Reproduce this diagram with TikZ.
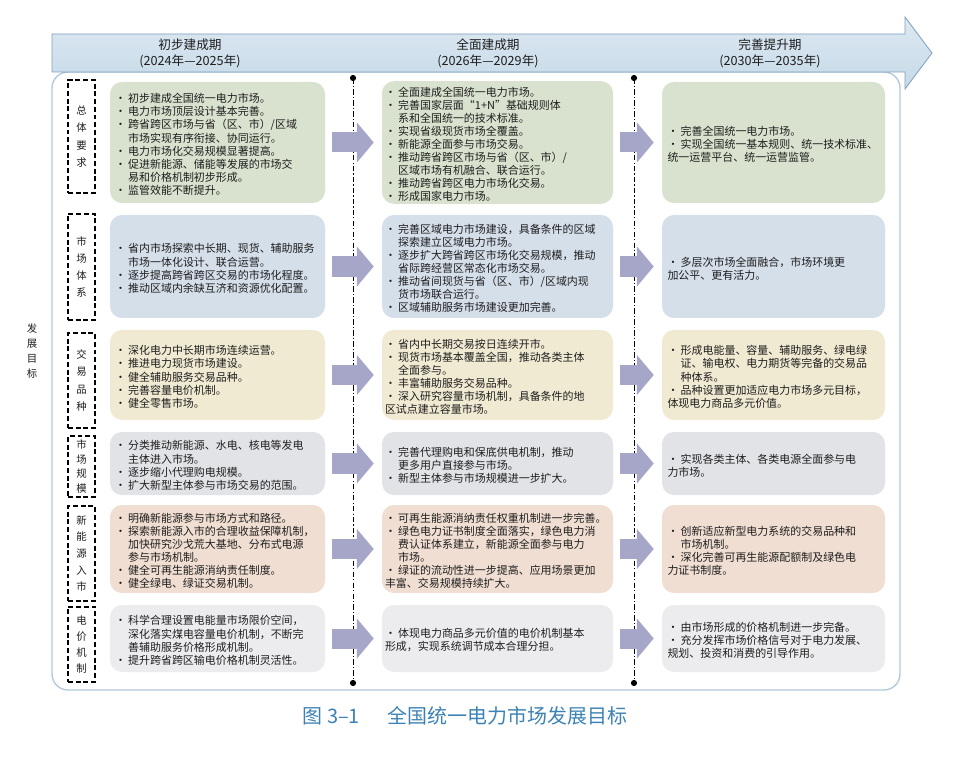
\documentclass[tikz,border=0pt]{standalone}
\usepackage{fontspec}
\setmainfont{Noto Sans CJK SC}
\usepackage{xcolor}
\usepackage{tikz}
\usetikzlibrary{arrows.meta,calc}
\definecolor{boxGreen}{HTML}{D9E2CE}
\definecolor{boxBlue}{HTML}{D5DFEA}
\definecolor{boxYellow}{HTML}{F1EAD2}
\definecolor{boxGray}{HTML}{E2E3E7}
\definecolor{boxPink}{HTML}{F0DED2}
\definecolor{boxLight}{HTML}{ECECEF}
\definecolor{arrowGray}{HTML}{A6A6C8}
\definecolor{hdrBlue}{HTML}{C6D9E8}
\definecolor{hdrLight}{HTML}{DDE9F2}
\definecolor{hdrEdge}{HTML}{7F9FBC}
\definecolor{frameEdge}{HTML}{B4CADB}
\definecolor{capBlue}{HTML}{3C82B4}
\definecolor{ink}{HTML}{1E1E1E}

\newdimen\pxu \pxu=0.025cm
\newcommand\itm{\par\noindent\hangindent=1.2em\hangafter=1\makebox[1.2em][l]{•}}
\newcommand\cellfont{\fontsize{7.8pt}{9.3pt}\selectfont}

\begin{document}
\begin{tikzpicture}[
  x=0.025cm, y=-0.025cm,
  cell/.style={rectangle, rounded corners=12\pxu, inner sep=2\pxu, align=left,
    font=\cellfont, text=ink, draw=none},
  colA/.style={cell, minimum width=215\pxu, text width=205\pxu},
  colB/.style={cell, minimum width=231\pxu, text width=225\pxu},
  colC/.style={cell, minimum width=223\pxu, text width=212\pxu},
  whole/.style={fill=boxGreen, minimum height=121\pxu},
  system/.style={fill=boxBlue, minimum height=103\pxu},
  product/.style={fill=boxYellow, minimum height=90\pxu},
  volume/.style={fill=boxGray, minimum height=63\pxu},
  renew/.style={fill=boxPink, minimum height=88\pxu},
  price/.style={fill=boxLight, minimum height=67\pxu},
  tag/.style={draw=black, dash pattern=on 3.5pt off 2pt, line width=0.9pt, inner sep=0pt,
    minimum width=27\pxu, align=center, text=ink, font=\fontsize{7.4pt}{12.3pt}\selectfont},
  flow/.style={draw=arrowGray, line width=0.5cm,
    -{Triangle[width=1cm, length=0.42cm, line width=0pt]}, shorten <=0.17cm, shorten >=0.2cm},
  divider/.style={draw=black, line width=0.7pt, dash pattern=on 4pt off 1.5pt on 0.8pt off 1.5pt},
  stage/.style={align=center, text=ink, font=\fontsize{9pt}{11.4pt}\selectfont}
]
  \useasboundingbox (0,0) rectangle (965,760);

  % frame and time line
  \draw[frameEdge, line width=1pt, rounded corners=16\pxu, fill=white] (52,72) rectangle (900,690);
  \draw[hdrEdge, line width=0.6pt, top color=hdrLight, bottom color=hdrBlue]
    (52,34) -- (905,34) -- (905,17) -- (932,53) -- (905,89) -- (905,72) -- (52,72) -- cycle;
  \node[stage] (early) at (190,53) {初步建成期\\(2024年—2025年)};
  \node[stage] (full) at (488,53) {全面建成期\\(2026年—2029年)};
  \node[stage] (mature) at (770,53) {完善提升期\\(2030年—2035年)};

  \coordinate (dvAtop) at (353,78); \coordinate (dvAbot) at (353,683);
  \coordinate (dvBtop) at (634,78); \coordinate (dvBbot) at (634,683);
  \draw[divider] (dvAtop) -- (dvAbot);
  \draw[divider] (dvBtop) -- (dvBbot);
  \foreach \p in {dvAtop,dvAbot,dvBtop,dvBbot}{ \fill[black] (\p) circle (2.2pt); }

  \node[text=ink, align=center, font=\fontsize{7.4pt}{10.7pt}\selectfont] (goal) at (32,351) {发\\展\\目\\标};

  \node[tag, minimum height=113\pxu] (t1) at (81.5,136.5) {总\\体\\要\\求};
  \node[tag, minimum height=106\pxu] (t2) at (81.5,267) {市\\场\\体\\系};
  \node[tag, minimum height=95\pxu] (t3) at (81.5,380.5) {交\\易\\品\\种};
  \node[tag, minimum height=61\pxu, font=\fontsize{7.4pt}{10.3pt}\selectfont] (t4) at (81.5,466.5) {市\\场\\规\\模};
  \node[tag, minimum height=95\pxu, font=\fontsize{7.4pt}{11.8pt}\selectfont] (t5) at (81.5,553.5) {新\\能\\源\\入\\市};
  \node[tag, minimum height=75\pxu, font=\fontsize{7.4pt}{11.3pt}\selectfont] (t6) at (81.5,644.5) {电\\价\\机\\制};

  % stage 1
  \node[colA, whole] (e1) at (217.5,142.5) {\itm 初步建成全国统一电力市场。
    \itm 电力市场顶层设计基本完善。
    \itm 跨省跨区市场与省（区、市）/区域\newline 市场实现有序衔接、协同运行。
    \itm 电力市场化交易规模显著提高。
    \itm 促进新能源、储能等发展的市场交\newline 易和价格机制初步形成。
    \itm 监管效能不断提升。};
  \node[colA, system] (e2) at (217.5,266.5) {\itm 省内市场探索中长期、现货、辅助服务\newline 市场一体化设计、联合运营。
    \itm 逐步提高跨省跨区交易的市场化程度。
    \itm 推动区域内余缺互济和资源优化配置。};
  \node[colA, product] (e3) at (217.5,375) {\itm 深化电力中长期市场连续运营。
    \itm 推进电力现货市场建设。
    \itm 健全辅助服务交易品种。
    \itm 完善容量电价机制。
    \itm 健全零售市场。};
  \node[colA, volume] (e4) at (217.5,463.5) {\itm 分类推动新能源、水电、核电等发电\newline 主体进入市场。
    \itm 逐步缩小代理购电规模。
    \itm 扩大新型主体参与市场交易的范围。};
  \node[colA, renew] (e5) at (217.5,549) {\itm 明确新能源参与市场方式和路径。
    \itm 探索新能源入市的合理收益保障机制，\newline 加快研究沙戈荒大基地、分布式电源\newline 参与市场机制。
    \itm 健全可再生能源消纳责任制度。
    \itm 健全绿电、绿证交易机制。};
  \node[colA, price] (e6) at (217.5,638.5) {\itm 科学合理设置电能量市场限价空间，\newline 深化落实煤电容量电价机制，不断完\newline 善辅助服务价格形成机制。
    \itm 提升跨省跨区输电价格机制灵活性。};

  % stage 2
  \node[colB, whole] (f1) at (497.5,142.5) {\itm 全面建成全国统一电力市场。
    \itm 完善国家层面“1+N”基础规则体\newline 系和全国统一的技术标准。
    \itm 实现省级现货市场全覆盖。
    \itm 新能源全面参与市场交易。
    \itm 推动跨省跨区市场与省（区、市）/\newline 区域市场有机融合、联合运行。
    \itm 推动跨省跨区电力市场化交易。
    \itm 形成国家电力市场。};
  \node[colB, system] (f2) at (497.5,266.5) {\itm 完善区域电力市场建设，具备条件的区域\newline 探索建立区域电力市场。
    \itm 逐步扩大跨省跨区市场化交易规模，推动\newline 省际跨经营区常态化市场交易。
    \itm 推动省间现货与省（区、市）/区域内现\newline 货市场联合运行。
    \itm 区域辅助服务市场建设更加完善。};
  \node[colB, product] (f3) at (497.5,375) {\itm 省内中长期交易按日连续开市。
    \itm 现货市场基本覆盖全国，推动各类主体\newline 全面参与。
    \itm 丰富辅助服务交易品种。
    \itm 深入研究容量市场机制，具备条件的地\newline 区试点建立容量市场。};
  \node[colB, volume] (f4) at (497.5,463.5) {\itm 完善代理购电和保底供电机制，推动\newline 更多用户直接参与市场。
    \itm 新型主体参与市场规模进一步扩大。};
  \node[colB, renew] (f5) at (497.5,549) {\itm 可再生能源消纳责任权重机制进一步完善。
    \itm 绿色电力证书制度全面落实，绿色电力消\newline 费认证体系建立，新能源全面参与电力\newline 市场。
    \itm 绿证的流动性进一步提高、应用场景更加\newline 丰富、交易规模持续扩大。};
  \node[colB, price] (f6) at (497.5,638.5) {\itm 体现电力商品多元价值的电价机制基本\newline 形成，实现系统调节成本合理分担。};

  % stage 3
  \node[colC, whole] (m1) at (773.5,142.5) {\itm 完善全国统一电力市场。
    \itm 实现全国统一基本规则、统一技术标准、\newline 统一运营平台、统一运营监管。};
  \node[colC, system] (m2) at (773.5,266.5) {\itm 多层次市场全面融合，市场环境更\newline 加公平、更有活力。};
  \node[colC, product] (m3) at (773.5,375) {\itm 形成电能量、容量、辅助服务、绿电绿\newline 证、输电权、电力期货等完备的交易品\newline 种体系。
    \itm 品种设置更加适应电力市场多元目标，\newline 体现电力商品多元价值。};
  \node[colC, volume] (m4) at (773.5,463.5) {\itm 实现各类主体、各类电源全面参与电\newline 力市场。};
  \node[colC, renew] (m5) at (773.5,549) {\itm 创新适应新型电力系统的交易品种和\newline 市场机制。
    \itm 深化完善可再生能源配额制及绿色电\newline 力证书制度。};
  \node[colC, price] (m6) at (773.5,638.5) {\itm 由市场形成的价格机制进一步完备。
    \itm 充分发挥市场价格信号对于电力发展、\newline 规划、投资和消费的引导作用。};

  \foreach \r in {1,...,6}{ \draw[flow] (e\r) -- (f\r); \draw[flow] (f\r) -- (m\r); }

  \node[text=capBlue, font=\fontsize{14.2pt}{17pt}\selectfont] (caption) at (465,716)
    {图 3–1\hspace{1.4em}全国统一电力市场发展目标};
\end{tikzpicture}
\end{document}
